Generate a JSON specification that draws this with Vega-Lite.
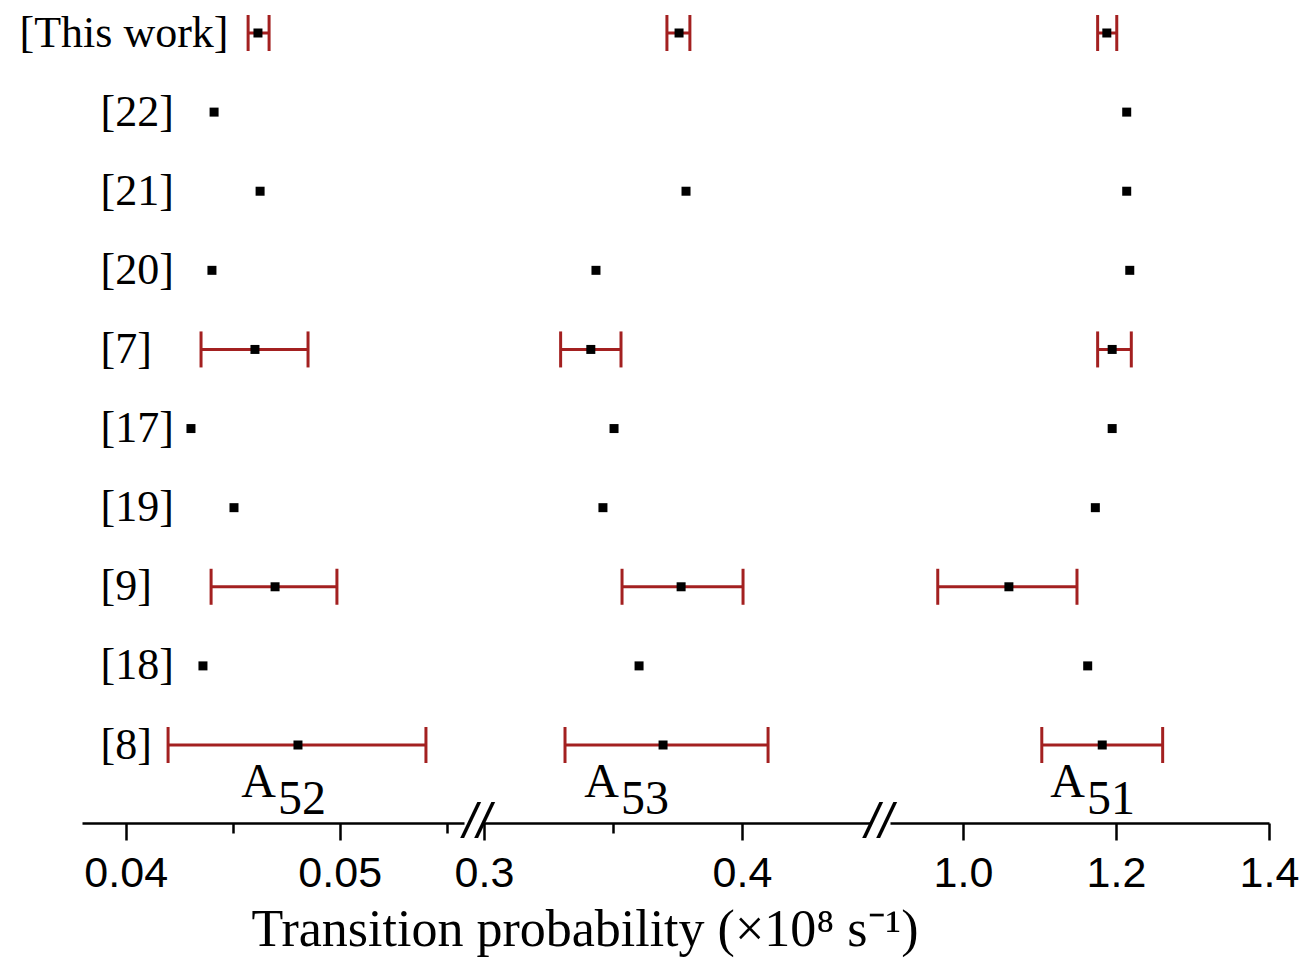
{
  "$schema": "https://vega.github.io/schema/vega-lite/v6.json",
  "background": "white",
  "padding": {"left": 19, "top": 11, "right": 5, "bottom": 5},
  "bounds": "flush",
  "spacing": 20,
  "config": {
    "view": {"stroke": null},
    "axis": {
      "domainColor": "black", "domainWidth": 2.5, "tickColor": "black", "tickWidth": 2.5,
      "labelColor": "black", "labelFont": "Liberation Sans", "labelFontSize": 43,
      "labelPadding": 12, "grid": false, "labelFlush": false, "labelOverlap": false
    }
  },
  "title": {
    "text": "Transition probability  (×10⁸ s⁻¹)",
    "orient": "bottom", "anchor": "middle", "font": "Liberation Serif", "fontSize": 52,
    "fontWeight": "normal", "color": "black", "offset": 10, "dx": -74
  },
  "datasets": {
    "rates": [
      {"ref": "[This work]", "trans": "A52", "value": 0.04618, "lo": 0.04572, "hi": 0.04670},
      {"ref": "[22]", "trans": "A52", "value": 0.04413, "lo": null, "hi": null},
      {"ref": "[21]", "trans": "A52", "value": 0.04628, "lo": null, "hi": null},
      {"ref": "[20]", "trans": "A52", "value": 0.04403, "lo": null, "hi": null},
      {"ref": "[7]", "trans": "A52", "value": 0.04604, "lo": 0.04352, "hi": 0.04852},
      {"ref": "[17]", "trans": "A52", "value": 0.04305, "lo": null, "hi": null},
      {"ref": "[19]", "trans": "A52", "value": 0.04506, "lo": null, "hi": null},
      {"ref": "[9]", "trans": "A52", "value": 0.04698, "lo": 0.04399, "hi": 0.04987},
      {"ref": "[18]", "trans": "A52", "value": 0.04361, "lo": null, "hi": null},
      {"ref": "[8]", "trans": "A52", "value": 0.04805, "lo": 0.04198, "hi": 0.05403},
      {"ref": "[This work]", "trans": "A53", "value": 0.3756, "lo": 0.3709, "hi": 0.3798},
      {"ref": "[21]", "trans": "A53", "value": 0.3783, "lo": null, "hi": null},
      {"ref": "[20]", "trans": "A53", "value": 0.3434, "lo": null, "hi": null},
      {"ref": "[7]", "trans": "A53", "value": 0.3414, "lo": 0.3297, "hi": 0.3531},
      {"ref": "[17]", "trans": "A53", "value": 0.3504, "lo": null, "hi": null},
      {"ref": "[19]", "trans": "A53", "value": 0.3461, "lo": null, "hi": null},
      {"ref": "[9]", "trans": "A53", "value": 0.3764, "lo": 0.3535, "hi": 0.4004},
      {"ref": "[18]", "trans": "A53", "value": 0.3601, "lo": null, "hi": null},
      {"ref": "[8]", "trans": "A53", "value": 0.3694, "lo": 0.3314, "hi": 0.4101},
      {"ref": "[This work]", "trans": "A51", "value": 1.188, "lo": 1.176, "hi": 1.201},
      {"ref": "[22]", "trans": "A51", "value": 1.214, "lo": null, "hi": null},
      {"ref": "[21]", "trans": "A51", "value": 1.214, "lo": null, "hi": null},
      {"ref": "[20]", "trans": "A51", "value": 1.218, "lo": null, "hi": null},
      {"ref": "[7]", "trans": "A51", "value": 1.195, "lo": 1.176, "hi": 1.220},
      {"ref": "[17]", "trans": "A51", "value": 1.195, "lo": null, "hi": null},
      {"ref": "[19]", "trans": "A51", "value": 1.173, "lo": null, "hi": null},
      {"ref": "[9]", "trans": "A51", "value": 1.060, "lo": 0.967, "hi": 1.149},
      {"ref": "[18]", "trans": "A51", "value": 1.163, "lo": null, "hi": null},
      {"ref": "[8]", "trans": "A51", "value": 1.182, "lo": 1.103, "hi": 1.261}
    ]
  },
  "hconcat": [
    {
      "width": 382, "height": 712,
      "data": {"name": "rates"},
      "transform": [{"filter": "datum.trans === 'A52'"}],
      "encoding": {
        "y": {
          "field": "ref", "type": "nominal",
          "scale": {"type": "point", "padding": 0, "domain": ["[This work]", "[22]", "[21]", "[20]", "[7]", "[17]", "[19]", "[9]", "[18]", "[8]"]},
          "axis": {
            "title": null, "domain": false, "ticks": false, "tickSize": 0,
            "labelFont": "Liberation Serif", "labelFontSize": 44, "labelLimit": 400, "labelBaseline": "middle",
            "labelAlign": {"condition": {"test": "datum.value === '[This work]'", "value": "right"}, "value": "left"},
            "labelPadding": {"condition": {"test": "datum.value === '[This work]'", "value": -146}, "value": -18}
          }
        }
      },
      "layer": [
        {
          "transform": [{"filter": "datum.lo != null"}],
          "mark": {"type": "rule", "color": "#a32020", "strokeWidth": 3},
          "encoding": {
            "x": {
              "field": "lo", "type": "quantitative",
              "scale": {"domain": [0.037958, 0.055808], "nice": false, "zero": false},
              "axis": {
                "title": null, "values": [0.04, 0.045, 0.05, 0.055], "offset": 78,
                "labelExpr": "(abs(datum.value-0.045)<1e-9 || abs(datum.value-0.055)<1e-9) ? '' : format(datum.value, '.2f')",
                "tickSize": {"condition": {"test": "abs(datum.value-0.045)<1e-9 || abs(datum.value-0.055)<1e-9", "value": 10}, "value": 17}
              }
            },
            "x2": {"field": "hi"}
          }
        },
        {
          "transform": [{"filter": "datum.lo != null"}],
          "mark": {"type": "tick", "color": "#a32020", "thickness": 3, "size": 36, "orient": "vertical", "opacity": 1},
          "encoding": {"x": {"field": "lo", "type": "quantitative", "scale": {"domain": [0.037958, 0.055808], "nice": false, "zero": false}}}
        },
        {
          "transform": [{"filter": "datum.lo != null"}],
          "mark": {"type": "tick", "color": "#a32020", "thickness": 3, "size": 36, "orient": "vertical", "opacity": 1},
          "encoding": {"x": {"field": "hi", "type": "quantitative", "scale": {"domain": [0.037958, 0.055808], "nice": false, "zero": false}}}
        },
        {
          "mark": {"type": "square", "color": "black", "size": 81, "opacity": 1},
          "encoding": {"x": {"field": "value", "type": "quantitative", "scale": {"domain": [0.037958, 0.055808], "nice": false, "zero": false}}}
        },
        {
          "data": {"values": [{}]},
          "mark": {"type": "text", "text": "A", "font": "Liberation Serif", "fontSize": 48, "align": "right", "baseline": "alphabetic", "dy": 52, "color": "black"},
          "encoding": {
            "x": {"datum": 0.04702, "type": "quantitative", "scale": {"domain": [0.037958, 0.055808], "nice": false, "zero": false}},
            "y": {"datum": "[8]", "type": "nominal"}
          }
        },
        {
          "data": {"values": [{}]},
          "mark": {"type": "text", "text": "52", "font": "Liberation Serif", "fontSize": 48, "align": "left", "baseline": "alphabetic", "dx": 2, "dy": 69, "color": "black"},
          "encoding": {
            "x": {"datum": 0.04702, "type": "quantitative", "scale": {"domain": [0.037958, 0.055808], "nice": false, "zero": false}},
            "y": {"datum": "[8]", "type": "nominal"}
          }
        }
      ]
    },
    {
      "width": 386, "height": 712,
      "data": {"name": "rates"},
      "transform": [{"filter": "datum.trans === 'A53'"}],
      "encoding": {
        "y": {
          "field": "ref", "type": "nominal",
          "scale": {"type": "point", "padding": 0, "domain": ["[This work]", "[22]", "[21]", "[20]", "[7]", "[17]", "[19]", "[9]", "[18]", "[8]"]},
          "axis": null
        }
      },
      "layer": [
        {
          "transform": [{"filter": "datum.lo != null"}],
          "mark": {"type": "rule", "color": "#a32020", "strokeWidth": 3},
          "encoding": {
            "x": {
              "field": "lo", "type": "quantitative",
              "scale": {"domain": [0.3, 0.44961], "nice": false, "zero": false},
              "axis": {
                "title": null, "values": [0.3, 0.35, 0.4], "offset": 78,
                "labelExpr": "abs(datum.value-0.35)<1e-9 ? '' : format(datum.value, '.1f')",
                "tickSize": {"condition": {"test": "abs(datum.value-0.35)<1e-9", "value": 10}, "value": 17}
              }
            },
            "x2": {"field": "hi"}
          }
        },
        {
          "transform": [{"filter": "datum.lo != null"}],
          "mark": {"type": "tick", "color": "#a32020", "thickness": 3, "size": 36, "orient": "vertical", "opacity": 1},
          "encoding": {"x": {"field": "lo", "type": "quantitative", "scale": {"domain": [0.3, 0.44961], "nice": false, "zero": false}}}
        },
        {
          "transform": [{"filter": "datum.lo != null"}],
          "mark": {"type": "tick", "color": "#a32020", "thickness": 3, "size": 36, "orient": "vertical", "opacity": 1},
          "encoding": {"x": {"field": "hi", "type": "quantitative", "scale": {"domain": [0.3, 0.44961], "nice": false, "zero": false}}}
        },
        {
          "mark": {"type": "square", "color": "black", "size": 81, "opacity": 1},
          "encoding": {"x": {"field": "value", "type": "quantitative", "scale": {"domain": [0.3, 0.44961], "nice": false, "zero": false}}}
        },
        {
          "data": {"values": [{}]},
          "mark": {"type": "text", "text": "A", "font": "Liberation Serif", "fontSize": 48, "align": "right", "baseline": "alphabetic", "dy": 52, "color": "black"},
          "encoding": {
            "x": {"datum": 0.3523, "type": "quantitative", "scale": {"domain": [0.3, 0.44961], "nice": false, "zero": false}},
            "y": {"datum": "[8]", "type": "nominal"}
          }
        },
        {
          "data": {"values": [{}]},
          "mark": {"type": "text", "text": "53", "font": "Liberation Serif", "fontSize": 48, "align": "left", "baseline": "alphabetic", "dx": 2, "dy": 69, "color": "black"},
          "encoding": {
            "x": {"datum": 0.3523, "type": "quantitative", "scale": {"domain": [0.3, 0.44961], "nice": false, "zero": false}},
            "y": {"datum": "[8]", "type": "nominal"}
          }
        },
        {
          "data": {"values": [{}]},
          "mark": {"type": "text", "text": "//", "font": "Liberation Sans", "fontSize": 50, "fontStyle": "italic", "align": "center", "baseline": "middle", "dx": -7, "dy": 78, "color": "black"},
          "encoding": {
            "x": {"datum": 0.3, "type": "quantitative", "scale": {"domain": [0.3, 0.44961], "nice": false, "zero": false}},
            "y": {"datum": "[8]", "type": "nominal"}
          }
        }
      ]
    },
    {
      "width": 379, "height": 712,
      "data": {"name": "rates"},
      "transform": [{"filter": "datum.trans === 'A51'"}],
      "encoding": {
        "y": {
          "field": "ref", "type": "nominal",
          "scale": {"type": "point", "padding": 0, "domain": ["[This work]", "[22]", "[21]", "[20]", "[7]", "[17]", "[19]", "[9]", "[18]", "[8]"]},
          "axis": null
        }
      },
      "layer": [
        {
          "transform": [{"filter": "datum.lo != null"}],
          "mark": {"type": "rule", "color": "#a32020", "strokeWidth": 3},
          "encoding": {
            "x": {
              "field": "lo", "type": "quantitative",
              "scale": {"domain": [0.90458, 1.4], "nice": false, "zero": false},
              "axis": {
                "title": null, "values": [1.0, 1.2, 1.4], "offset": 78, "tickSize": 17,
                "labelExpr": "format(datum.value, '.1f')"
              }
            },
            "x2": {"field": "hi"}
          }
        },
        {
          "transform": [{"filter": "datum.lo != null"}],
          "mark": {"type": "tick", "color": "#a32020", "thickness": 3, "size": 36, "orient": "vertical", "opacity": 1},
          "encoding": {"x": {"field": "lo", "type": "quantitative", "scale": {"domain": [0.90458, 1.4], "nice": false, "zero": false}}}
        },
        {
          "transform": [{"filter": "datum.lo != null"}],
          "mark": {"type": "tick", "color": "#a32020", "thickness": 3, "size": 36, "orient": "vertical", "opacity": 1},
          "encoding": {"x": {"field": "hi", "type": "quantitative", "scale": {"domain": [0.90458, 1.4], "nice": false, "zero": false}}}
        },
        {
          "mark": {"type": "square", "color": "black", "size": 81, "opacity": 1},
          "encoding": {"x": {"field": "value", "type": "quantitative", "scale": {"domain": [0.90458, 1.4], "nice": false, "zero": false}}}
        },
        {
          "data": {"values": [{}]},
          "mark": {"type": "text", "text": "A", "font": "Liberation Serif", "fontSize": 48, "align": "right", "baseline": "alphabetic", "dy": 52, "color": "black"},
          "encoding": {
            "x": {"datum": 1.1595, "type": "quantitative", "scale": {"domain": [0.90458, 1.4], "nice": false, "zero": false}},
            "y": {"datum": "[8]", "type": "nominal"}
          }
        },
        {
          "data": {"values": [{}]},
          "mark": {"type": "text", "text": "51", "font": "Liberation Serif", "fontSize": 48, "align": "left", "baseline": "alphabetic", "dx": 2, "dy": 69, "color": "black"},
          "encoding": {
            "x": {"datum": 1.1595, "type": "quantitative", "scale": {"domain": [0.90458, 1.4], "nice": false, "zero": false}},
            "y": {"datum": "[8]", "type": "nominal"}
          }
        },
        {
          "data": {"values": [{}]},
          "mark": {"type": "text", "text": "//", "font": "Liberation Sans", "fontSize": 50, "fontStyle": "italic", "align": "center", "baseline": "middle", "dx": -11, "dy": 78, "color": "black"},
          "encoding": {
            "x": {"datum": 0.90458, "type": "quantitative", "scale": {"domain": [0.90458, 1.4], "nice": false, "zero": false}},
            "y": {"datum": "[8]", "type": "nominal"}
          }
        }
      ]
    }
  ]
}
